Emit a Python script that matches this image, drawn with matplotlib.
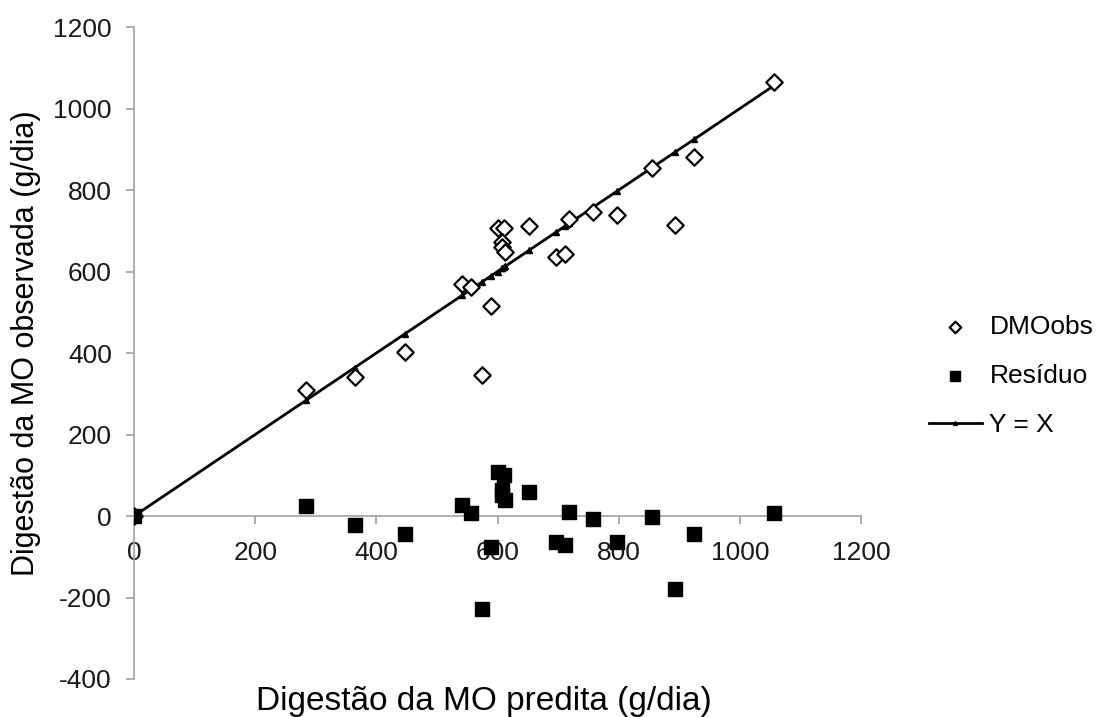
import numpy as np
import matplotlib.pyplot as plt

plt.rcParams.update({'font.family': ['Liberation Sans', 'DejaVu Sans'],
                     'axes.unicode_minus': False})

# valores (g/dia)
predita = [0, 284, 364, 447, 542, 556, 574, 590, 600, 610, 608, 608, 613,
           652, 696, 711, 718, 758, 798, 855, 893, 924, 1057]
observada = [0, 309, 342, 403, 570, 563, 346, 515, 708, 708, 673, 661, 649,
             712, 635, 642, 728, 747, 739, 853, 714, 882, 1065]
residuo = [0, 25, -22, -43, 28, 7, -228, -75, 109, 100, 64, 52, 39,
           60, -63, -70, 9, -8, -63, -3, -180, -45, 7]

xticks = [0, 200, 400, 600, 800, 1000, 1200]
yticks = [-400, -200, 0, 200, 400, 600, 800, 1000, 1200]

fig = plt.figure(figsize=(10.97, 7.17), dpi=100)
ax = fig.add_axes([0.1222, 0.053, 0.6627, 0.9093])

yx = np.sort(predita)
ax.plot(yx, yx, color='black', lw=2, marker='^', ms=4, label='Y = X', zorder=2)
ax.scatter(predita, observada, marker='D', s=70, facecolor='white',
           edgecolor='black', linewidths=1.6, label='DMOobs', zorder=3)
ax.scatter(predita, residuo, marker='s', s=110, color='black',
           label='Resíduo', zorder=4)

ax.set_xlim(0, 1200)
ax.set_ylim(-400, 1200)
ax.set_xticks(xticks)
ax.set_yticks(yticks)

grey = '#a0a0a0'
ax.spines['bottom'].set_position(('data', 0))
ax.spines['top'].set_visible(False)
ax.spines['right'].set_visible(False)
for s in ['bottom', 'left']:
    ax.spines[s].set_color(grey)
    ax.spines[s].set_linewidth(1.2)
ax.tick_params(axis='both', colors=grey, labelcolor='#1a1a1a', labelsize=19,
               length=6, width=1.2)
ax.tick_params(axis='x', pad=12)
ax.tick_params(axis='y', pad=10)

ax.set_ylabel('Digestão da MO observada (g/dia)', fontsize=22)
ax.yaxis.set_label_coords(-0.128, 0.515)
fig.text(0.441, 0.0, 'Digestão da MO predita (g/dia)', fontsize=24,
         ha='center', va='bottom')

h, l = ax.get_legend_handles_labels()
order = [1, 2, 0]
ax.legend([h[i] for i in order], [l[i] for i in order], loc='center left',
          bbox_to_anchor=(1.075, 0.465), frameon=False, fontsize=19,
          handlelength=2.0, labelspacing=0.95, handletextpad=0.3,
          scatterpoints=1, markerscale=0.7, borderpad=0)

fig.savefig('out.png', dpi=100)
